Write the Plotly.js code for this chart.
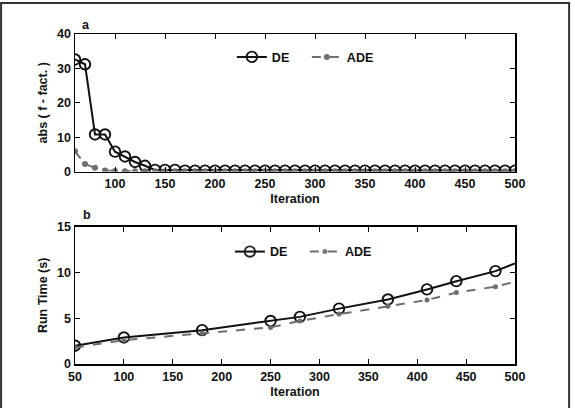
<!DOCTYPE html>
<html>
<head>
<meta charset="utf-8">
<script src="https://cdn.plot.ly/plotly-3.0.1.min.js"></script>
<style>html,body{margin:0;padding:0;background:#fff;}#chart{width:575px;height:408px;}</style>
</head>
<body>
<div id="chart"></div>
<script>
// Panel a: abs(f - fact.) vs iteration
const iterA = [60,70,80,90,100,110,120,130,140,150,160,170,180,190,200,210,220,230,240,250,260,270,280,290,300,310,320,330,340,350,360,370,380,390,400,410,420,430,440,450,460,470,480,490,500];
const deA = [32.6,31.2,10.8,10.8,5.8,4.4,2.8,1.7,0.5,0.5,0.5,0.3,0.3,0.3,0.3,0.3,0.3,0.3,0.3,0.3,0.3,0.3,0.3,0.3,0.3,0.3,0.3,0.3,0.3,0.3,0.3,0.3,0.3,0.3,0.3,0.3,0.3,0.3,0.3,0.3,0.3,0.3,0.3,0.3,0.3];
const adeA = [5.9,2.2,1.1,0.3,0.2,0.1,0.1,0.1,0.1,0.1,0.1,0.1,0.1,0.1,0.1,0.1,0.1,0.1,0.1,0.1,0.1,0.1,0.1,0.1,0.1,0.1,0.1,0.1,0.1,0.1,0.1,0.1,0.1,0.1,0.1,0.1,0.1,0.1,0.1,0.1,0.1,0.1,0.1,0.1,0.1];

// Panel b: run time vs iteration
const iterB = [50,100,180,250,280,320,370,410,440,480,500];
const deB = [2.0,2.9,3.7,4.7,5.15,6.05,7.05,8.15,9.05,10.15,11.0];
const adeB = [1.8,2.6,3.35,4.0,4.7,5.45,6.3,7.0,7.8,8.45,9.0];

const xTicksA = [100,150,200,250,300,350,400,450,500];
const xTicksB = [50,100,150,200,250,300,350,400,450,500];
const yTicksA = [0,10,20,30,40];
const yTicksB = [0,5,10,15];

const FONT = 'Liberation Sans, Arial, sans-serif';
const bold = (s) => ({family: FONT, size: s, color: '#111', weight: 700});
const deColor = '#111';
const adeColor = '#6e6e6e';

const endless = (xs) => xs.map((v, i) => i === xs.length - 1 ? 0 : 1);

const traces = [
  {x: iterA, y: deA, name: 'DE', type: 'scatter', mode: 'lines+markers', xaxis: 'x', yaxis: 'y', legend: 'legend',
   line: {color: deColor, width: 2},
   marker: {symbol: 'circle-open', size: 10.5, color: deColor, line: {width: 1.9, color: deColor}}},
  {x: iterA, y: adeA, name: 'ADE', type: 'scatter', mode: 'lines+markers', xaxis: 'x', yaxis: 'y', legend: 'legend',
   line: {color: adeColor, width: 2, dash: 'dash'},
   marker: {symbol: 'circle', size: 6, color: adeColor}},
  {x: iterB, y: deB, name: 'DE', type: 'scatter', mode: 'lines+markers', xaxis: 'x2', yaxis: 'y2', legend: 'legend2',
   line: {color: deColor, width: 2},
   marker: {symbol: 'circle-open', size: 10.5, color: deColor, opacity: endless(iterB), line: {width: 1.9, color: deColor}}},
  {x: iterB, y: adeB, name: 'ADE', type: 'scatter', mode: 'lines+markers', xaxis: 'x2', yaxis: 'y2', legend: 'legend2',
   line: {color: adeColor, width: 2, dash: 'dash'},
   marker: {symbol: 'circle', size: 5, color: adeColor, opacity: endless(iterB)}}
];

const axisBase = {
  showline: true, linecolor: '#000', linewidth: 1.5, mirror: 'ticks',
  ticks: 'inside', ticklen: 5, tickwidth: 1, tickcolor: '#000',
  showgrid: false, zeroline: false, tickfont: bold(12.5)
};

const layout = {
  width: 575, height: 408,
  margin: {l: 75, r: 60, t: 34, b: 44},
  paper_bgcolor: '#fff', plot_bgcolor: '#fff',
  font: bold(12.5),
  showlegend: true,
  xaxis: Object.assign({}, axisBase, {domain: [0, 1], anchor: 'y', range: [60, 500], tickvals: xTicksA,
    title: {text: 'Iteration', font: bold(12.5), standoff: 4}}),
  yaxis: Object.assign({}, axisBase, {domain: [0.583, 1], anchor: 'x', range: [0, 40], tickvals: yTicksA,
    title: {text: 'abs ( f - fact. )', font: bold(12.5), standoff: 6}}),
  xaxis2: Object.assign({}, axisBase, {domain: [0, 1], anchor: 'y2', range: [50, 500], tickvals: xTicksB,
    title: {text: 'Iteration', font: bold(12.5), standoff: 4}}),
  yaxis2: Object.assign({}, axisBase, {domain: [0, 0.416], anchor: 'x2', range: [0, 15], tickvals: yTicksB,
    title: {text: 'Run Time (s)', font: bold(12.5), standoff: 6}}),
  legend: {orientation: 'h', x: 0.3565, y: 0.975, xanchor: 'left', yanchor: 'top', xref: 'paper', yref: 'paper',
    entrywidth: 30, entrywidthmode: 'pixels',
    bgcolor: 'rgba(0,0,0,0)', font: bold(12.5), itemclick: false},
  legend2: {orientation: 'h', x: 0.352, y: 0.385, xanchor: 'left', yanchor: 'top', xref: 'paper', yref: 'paper',
    entrywidth: 30, entrywidthmode: 'pixels',
    bgcolor: 'rgba(0,0,0,0)', font: bold(12.5), itemclick: false},
  annotations: [
    {text: 'a', xref: 'paper', yref: 'paper', x: 0.012, y: 1.027, xanchor: 'left', yanchor: 'middle', showarrow: false, font: bold(12.5)},
    {text: 'b', xref: 'paper', yref: 'paper', x: 0.014, y: 0.452, xanchor: 'left', yanchor: 'middle', showarrow: false, font: bold(12.5)}
  ],
  shapes: [
    {type: 'rect', xref: 'paper', yref: 'paper', x0: -0.168, x1: 1.123, y0: -0.2, y1: 1.094,
     line: {color: '#333', width: 2}, fillcolor: 'rgba(0,0,0,0)', layer: 'below'}
  ]
};

Plotly.newPlot('chart', traces, layout, {staticPlot: true, displayModeBar: false});
</script>
</body>
</html>
